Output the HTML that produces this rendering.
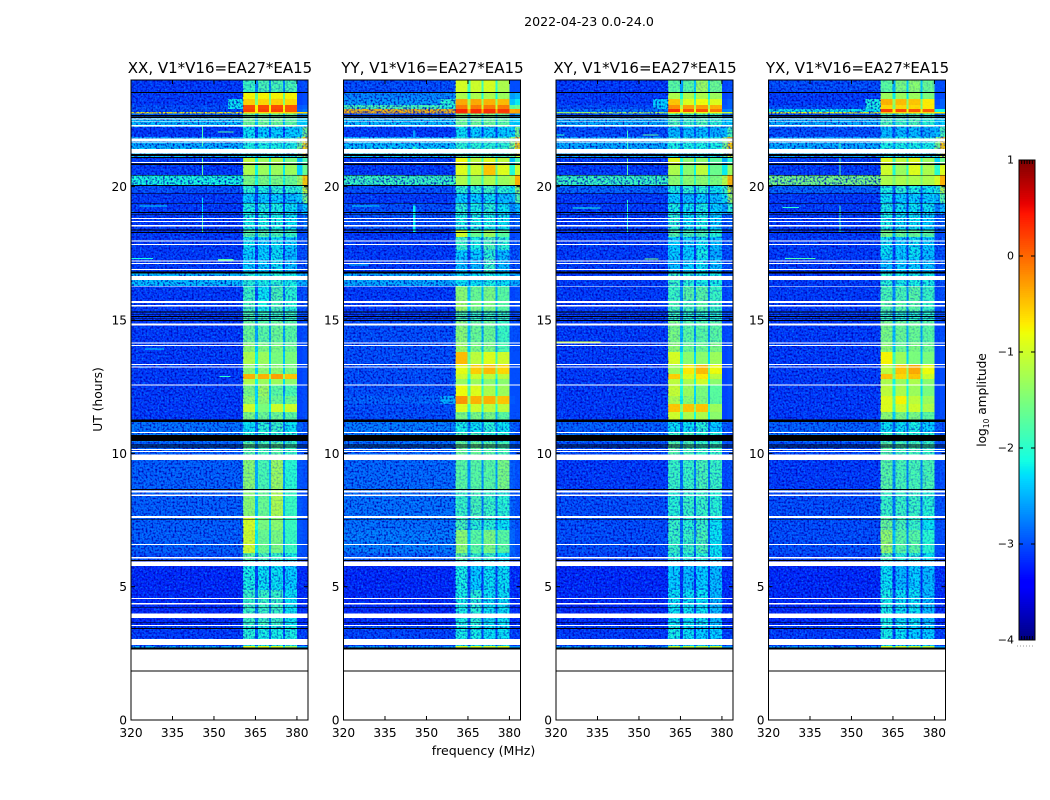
<!DOCTYPE html>
<html lang="en">
<head>
<meta charset="utf-8">
<title>2022-04-23 0.0-24.0</title>
<style>
html,body{margin:0;padding:0;background:#fff;}
svg{display:block;font-family:"DejaVu Sans","Liberation Sans",sans-serif;fill:#000;}
</style>
</head>
<body>
<svg id="figure" xmlns="http://www.w3.org/2000/svg" width="1050" height="800" viewBox="0 0 1050 800">
<defs>
<filter id="fleck-light" x="0" y="0" width="100%" height="100%" color-interpolation-filters="sRGB">
<feTurbulence type="fractalNoise" baseFrequency="0.55" numOctaves="1" seed="7"/>
<feColorMatrix type="matrix" values="0 0 0 0 0  0 0 0 0 0.62  0 0 0 0 1  3.2 0 0 0 -1.45"/>
</filter>
<filter id="fleck-dark" x="0" y="0" width="100%" height="100%" color-interpolation-filters="sRGB">
<feTurbulence type="fractalNoise" baseFrequency="0.52" numOctaves="1" seed="23"/>
<feColorMatrix type="matrix" values="0 0 0 0 0  0 0 0 0 0  0 0 0 0 0.7  3.2 0 0 0 -1.45"/>
</filter>
</defs>
<rect x="0" y="0" width="1050" height="800" fill="#fff"/>
<text x="589" y="26" font-size="12.6" text-anchor="middle">2022-04-23 0.0-24.0</text>
<g id="panels"></g>
<text x="483.5" y="755" font-size="12.55" text-anchor="middle">frequency (MHz)</text>
<text x="0" y="0" font-size="12.3" text-anchor="middle" transform="translate(102,399.5) rotate(-90)">UT (hours)</text>
<g id="colorbar"></g>
<text x="0" y="0" font-size="12.2" text-anchor="middle" transform="translate(986,400) rotate(-90)">log<tspan font-size="7.5" dy="3">10</tspan><tspan dy="-3"> amplitude</tspan></text>
</svg>
<script>
const utEdges = [24,23.53,23.29,23.06,22.91,22.80,22.74,22.58,22.24,21.86,21.45,21.23,21.11,20.81,20.44,20.06,19.76,19.39,18.98,18.38,18.11,17.63,17.33,16.80,16.28,15.75,15.34,14.96,14.18,13.80,13.31,12.98,12.79,12.56,12.15,11.85,11.55,11.25,10.80,10.43,9.75,8.63,7.65,7.13,6.26,5.96,4.88,3.56,3.00,2.78,2.68];

const backgroundBand = [320,360.5];
const spectralBands = [[360.5,364.8],[365.9,369.9],[370.6,375],[375.7,380]];
const edgeBand = [382,384];

const xTickValues = [320,335,350,365,380];
const yTickValues = [0,5,10,15,20];
const colorbarTickValues = [1,0,-1,-2,-3,-4];
const colorbarTickLabels = ['1','0','\u22121','\u22122','\u22123','\u22124'];

const whiteRows = [[22.56,22.52],[22.47,22.44],[22.32,22.26],[21.81,21.72],[21.69,21.66],[21.41,21.25],[20.93,20.89],[18.83,18.79],[18.71,18.68],[18.56,18.50],[17.99,17.95],[17.85,17.81],[17.24,17.20],[17.14,17.10],[16.91,16.88],[16.65,16.50],[16.26,16.23],[15.71,15.64],[15.56,15.51],[14.86,14.79],[14.16,14.12],[14.06,14.03],[13.35,13.31],[13.25,13.21],[12.59,12.55],[10.80,10.76],[10.17,10.13],[10.09,10.05],[9.95,9.75],[8.61,8.54],[8.45,8.40],[7.65,7.58],[6.60,6.56],[6.11,6.06],[5.94,5.78],[4.58,4.54],[4.39,4.34],[3.99,3.83],[3.56,3.53],[3.04,2.81]];

const blackRows = [[23.55,23.51],[22.69,22.64],[22.61,22.58],[21.23,21.15],[21.11,21.08],[20.86,20.82],[20.44,20.41],[20.06,20.03],[19.75,19.72],[19.39,19.36],[19.05,19.02],[18.98,18.95],[18.39,18.35],[18.30,18.26],[16.82,16.75],[15.32,15.28],[15.23,15.20],[15.15,15.11],[15.06,15.03],[15.00,14.96],[11.26,11.18],[10.69,10.47],[10.33,10.29],[10.25,10.22],[8.67,8.63],[7.54,7.51],[6.00,5.97],[4.24,4.21],[3.68,3.65],[3.45,3.41],[2.71,2.65],[1.86,1.81]];

/* Each row: background, band 1-4, high-frequency edge (log10 amplitude) */
const xxLevels = [
[-3.1,-1.9,-1.8,-1.8,-1.8,-3],[-3.1,-.75,-.75,-.75,-.75,-3],[-3.1,-.55,-.6,-.55,-.6,-3],[-3,.15,.15,.15,.1,-2.9],[-3,.2,.2,.2,.1,-2.8],
[-.7,-.6,-.6,-.6,-.6,-.6],[-2.9,-1.6,-1.6,-1.6,-1.6,-2.6],[-2.4,-1.6,-1.6,-1.6,-1.7,-2.3],[-3.1,-2.2,-2.3,-2.3,-2.3,-1.5],[-2.5,-2.1,-2.1,-2.1,-2.1,-.6],
[-2.3,-2,-2,-2,-2,-.5],[-2.4,-2.2,-2.2,-2.2,-2.2,-1],[-3.1,-1.1,-1.3,-1.2,-1.5,-1.8],[-3.1,-1.2,-1.3,-1.3,-1.3,-1.6],[-2.1,-1.5,-1.5,-1.5,-1.6,-.5],
[-3,-2,-2.1,-2,-2,-1],[-3.1,-2.3,-2.3,-2.3,-2.4,-1.5],[-3.1,-2.1,-2.1,-2.1,-2.2,-2.3],[-3.1,-2.1,-2.1,-2.1,-2.2,-2.8],[-3.1,-1.7,-1.7,-1.8,-1.9,-3],
[-3.1,-2.2,-2.3,-2.2,-2.3,-3],[-3.1,-2.3,-2.3,-2.2,-2.4,-3],[-3.1,-2.3,-2.3,-2.2,-2.4,-3],[-2.4,-2,-2.1,-2,-2.1,-2.5],[-3.1,-1.9,-2.2,-1.8,-2,-3],
[-3.1,-1.8,-2.1,-1.8,-2,-3],[-3.1,-1.8,-1.9,-1.9,-1.9,-3],[-3.1,-1.6,-1.7,-1.6,-1.7,-3],[-3.1,-1.4,-1.5,-1.5,-1.6,-3],[-3.1,-1.2,-1.3,-1.5,-1.5,-3],
[-3.1,-1.4,-1.4,-1.4,-1.5,-3],[-3.1,-.4,-.4,-.3,-.5,-3],[-3.1,-1.2,-1.3,-1.3,-1.4,-3],[-3.1,-1.5,-1.3,-1.7,-1.8,-3],[-3.1,-1.4,-1.4,-1.6,-1.6,-3],
[-3.1,-1,-1.5,-1,-1,-3],[-3.1,-1.5,-1.6,-1.6,-1.7,-3],[-2.8,-2.2,-2,-1.9,-2.2,-3],[-2.75,-2,-2,-2,-2,-3],[-2.9,-1.7,-1.8,-1.7,-1.9,-3],
[-2.9,-1.4,-1.8,-1.3,-2,-3],[-2.9,-1.4,-1.6,-1.2,-1.9,-3],[-2.9,-.95,-1.5,-1.4,-1.9,-3],[-2.9,-1,-1.6,-1.5,-1.9,-3],[-3,-1.7,-1.8,-1.9,-2.1,-3],
[-3.2,-2.1,-2.2,-2.2,-2.3,-3.2],[-3.2,-1.9,-1.9,-1.9,-2.2,-3.2],[-3.1,-2,-2.1,-2.1,-2.1,-3.1],[-3.1,-2.1,-2.1,-2.1,-2.1,-3.1],[-2.5,-.9,-.9,-1,-1.3,-2.5]
];

const yyLevels = [
[-3,-.95,-1,-.95,-1.2,-3],[-2.7,-1.2,-1.2,-1.2,-1.3,-2.5],[-2.6,-.35,-.35,-.4,-.45,-2.2],[-1.8,-.1,-.1,-.1,-.1,-1.6],[-.4,.35,.3,.3,.25,-.3],
[-.35,.3,.3,.3,.2,-.3],[-3,-1.5,-1.5,-1.5,-1.6,-2.6],[-2.4,-1.6,-1.6,-1.6,-1.7,-2.3],[-3.1,-2.2,-2.3,-2.3,-2.3,-1.5],[-2.4,-2,-2,-2,-2,-.5],
[-2.2,-1.9,-1.9,-1.9,-1.9,-.6],[-2.3,-1.7,-1.8,-1.8,-1.9,-1],[-3.1,-.8,-1.1,-.9,-1.1,-1.8],[-3.1,-.9,-1,-.5,-.9,-1],[-1.9,-1.2,-1.3,-1.2,-1.3,-.4],
[-3,-2,-2,-1.9,-2,-1.4],[-3.1,-2.3,-2.3,-2.2,-2.4,-1.7],[-3,-2,-2.1,-2,-2.2,-2.4],[-3,-2.1,-2.1,-2.1,-2.2,-2.9],[-3.1,-.95,-1.6,-1.3,-1.7,-3],
[-3.1,-1.9,-2.1,-1.8,-2,-3],[-3.1,-2.3,-2.3,-2,-2.4,-3],[-3.1,-2.4,-2.4,-1.9,-2.4,-3],[-2.5,-2.2,-2.2,-2.1,-2.2,-2.5],[-3.1,-1.4,-1.6,-1.5,-1.7,-3],
[-3.1,-1.3,-1.5,-1.5,-1.7,-3],[-3.1,-1.8,-1.9,-1.9,-1.9,-3],[-3,-1.4,-1.6,-1.6,-1.9,-3],[-3,-1.3,-1.5,-1.5,-1.8,-3],[-3,-.45,-1.1,-.9,-1,-3],
[-3,-.85,-.55,-.45,-.6,-3],[-3,-1,-1,-1.1,-1.1,-3],[-3,-1.3,-1.3,-1.4,-1.4,-3],[-3,-.8,-.9,-1.2,-1.3,-3],[-2.9,-.25,-.4,-.4,-.5,-3],
[-3,-.9,-1,-1.1,-1.1,-3],[-3,-1.5,-1.5,-1.5,-1.7,-3],[-2.75,-2.1,-2.2,-2,-2.2,-3],[-2.75,-1.8,-1.8,-2,-2,-3],[-2.85,-1.6,-1.6,-1.7,-1.8,-3],
[-2.85,-1.7,-1.7,-1.7,-1.5,-3],[-2.8,-1.9,-1.8,-1.9,-2,-3],[-2.8,-1.8,-2,-2,-2.2,-3],[-2.75,-1.4,-1.7,-1.5,-1.7,-3],[-2.9,-1.7,-1.9,-1.9,-2.2,-3],
[-3.2,-2.1,-2.3,-2.2,-2.2,-3.2],[-3.2,-2.1,-2,-2.2,-2.2,-3.2],[-3.05,-2.1,-2.1,-2.2,-2.2,-3.1],[-3.1,-2.2,-2.2,-2.2,-2.2,-3.1],[-2.6,-.95,-.95,-1,-.95,-2.6]
];

const xyLevels = [
[-3.1,-1.7,-1.7,-1.3,-1.6,-3],[-3.1,-1.2,-1.2,-1.2,-1.3,-3],[-3.1,-.5,-.9,-.8,-.9,-2.9],[-3,-.2,-.3,-.3,-.4,-2.9],[-2.8,.3,.1,.1,-.1,-2.7],
[-1.2,-.7,-.8,-.8,-.8,-1],[-3,-1.8,-1.8,-1.8,-1.9,-2.8],[-2.5,-1.8,-1.9,-1.8,-2,-2.3],[-3,-2.4,-2.4,-2.4,-2.5,-1.8],[-2.5,-2.1,-2.1,-2.1,-2.1,-.5],
[-2.5,-2.1,-2.1,-2.1,-2.1,-.5],[-2.5,-2.2,-2.2,-2.2,-2.2,-1],[-3.1,-.9,-1.4,-1.4,-1.7,-2],[-3.1,-1.2,-1.4,-1.1,-1.6,-1.3],[-1.9,-1.4,-1.4,-1.4,-1.5,-.4],
[-2.9,-2.1,-2,-2,-2.2,-1],[-3.1,-2.3,-2.4,-2.3,-2.4,-1.3],[-3.1,-2.1,-2.2,-2.1,-2.3,-2],[-3.1,-2,-2.2,-2.1,-2.3,-2.9],[-3.1,-1.7,-1.8,-1.8,-2,-3],
[-3.1,-2.3,-2.3,-2.2,-2.4,-3],[-3.1,-2.3,-2.3,-2.1,-2.5,-3],[-3.1,-2.4,-2.3,-2.2,-2.4,-3],[-3.1,-1.9,-2,-2.1,-2.1,-3],[-3.1,-1.9,-1.7,-1.7,-1.9,-3],
[-3.1,-1.8,-1.8,-1.7,-1.9,-3],[-3.1,-1.9,-2,-2,-2,-3],[-3.1,-1.5,-1.7,-1.7,-1.7,-3],[-3.1,-1.4,-1.6,-1.6,-1.5,-3],[-3.1,-.95,-1.4,-1.4,-1.3,-3],
[-3.1,-1.3,-.7,-.45,-.8,-3],[-3.1,-.55,-.9,-.7,-1.1,-3],[-3.1,-1.1,-1.2,-1,-1.4,-3],[-3.1,-1.05,-1.3,-1.5,-1.7,-3],[-3.1,-1.2,-1.4,-1.5,-1.7,-3],
[-3.1,-.5,-.5,-.5,-1.3,-3],[-3.1,-1,-1.2,-1.2,-1.4,-3],[-2.9,-2.2,-2.2,-2,-2.3,-3],[-2.8,-1.9,-1.8,-2,-2,-3],[-3,-1.7,-1.8,-1.9,-1.9,-3],
[-3.1,-1.9,-1.9,-1.8,-1.9,-3],[-3,-2,-1.9,-1.9,-2,-3],[-3,-1.9,-2,-1.9,-2.2,-3],[-3,-1.9,-1.9,-1.8,-2.2,-3],[-3.05,-2,-2,-2,-2.2,-3.1],
[-3.2,-2.3,-2.4,-2.3,-2.4,-3.2],[-3.2,-2.2,-2.2,-2.2,-2.4,-3.2],[-3.1,-2.1,-2.2,-2.3,-2.3,-3.1],[-3.1,-2.3,-2.3,-2.3,-2.3,-3.1],[-2.6,-1.1,-1.1,-1.2,-1.1,-2.6]
];

const yxLevels = [
[-3,-1.7,-1.5,-1.4,-1.6,-3],[-3.1,-1.3,-1.3,-1.3,-1.5,-3],[-3.1,-.4,-.45,-.5,-.7,-2.9],[-3,-.6,-.6,-.6,-.7,-2.9],[-2.2,.2,.15,.1,.05,-2.1],
[-.8,-.5,-.6,-.6,-.6,-.7],[-3,-1.8,-1.8,-1.8,-1.9,-2.8],[-2.5,-1.8,-1.9,-1.8,-2,-2.3],[-3,-2.4,-2.4,-2.4,-2.5,-1.8],[-2.5,-2.1,-2.1,-2.1,-2.1,-.5],
[-2.4,-2.1,-2.1,-2.1,-2.1,-.5],[-2.5,-2.2,-2.2,-2.2,-2.2,-1],[-3.1,-.9,-1.1,-.9,-1.3,-1.6],[-3.1,-1,-1.3,-.9,-1.2,-.9],[-1.5,-1.2,-1.2,-1.2,-1.2,-.4],
[-2.9,-2.1,-2,-2.1,-2.2,-1.2],[-3.1,-2.2,-2.3,-2.3,-2.3,-1.7],[-3.1,-2.1,-2.2,-2.2,-2.2,-2.4],[-3.1,-2.1,-2.2,-2.2,-2.3,-2.9],[-3.1,-1.5,-1.6,-1.6,-1.7,-3],
[-3.1,-2.2,-2.3,-2.2,-2.3,-3],[-3.1,-2.2,-2.3,-2.2,-2.4,-3],[-3.1,-2.4,-2.3,-2.3,-2.4,-3],[-3.1,-2,-2.1,-2.1,-2.1,-3],[-3.1,-1.8,-1.8,-1.7,-1.9,-3],
[-3.1,-1.7,-1.7,-1.7,-1.9,-3],[-3.1,-1.9,-2,-2,-2,-3],[-3.1,-1.5,-1.6,-1.6,-1.7,-3],[-3.1,-1.4,-1.6,-1.5,-1.6,-3],[-3.1,-.75,-1.3,-1.5,-1.5,-3],
[-3.1,-1.1,-.5,-.35,-.8,-3],[-3.1,-.5,-.6,-.5,-1,-3],[-3.1,-1.2,-1.3,-1.2,-1.4,-3],[-3.1,-1.1,-1.2,-1.3,-1.5,-3],[-3.1,-.9,-.75,-1.1,-1.3,-3],
[-3.1,-.9,-1,-1,-1.2,-3],[-3.1,-1.4,-1.5,-1.5,-1.7,-3],[-2.9,-2.2,-2.2,-2.1,-2.3,-3],[-2.8,-1.9,-1.9,-2,-2,-3],[-3,-1.7,-1.8,-1.8,-1.9,-3],
[-3.1,-1.7,-1.8,-1.8,-1.8,-3],[-3,-1.9,-1.9,-1.9,-2,-3],[-3,-1.6,-1.8,-1.9,-2.2,-3],[-3,-1.35,-1.7,-1.7,-2,-3],[-3.05,-1.8,-2,-2,-2.2,-3.1],
[-3.2,-2.2,-2.4,-2.3,-2.4,-3.2],[-3.2,-2.1,-2.2,-2.2,-2.4,-3.2],[-3.1,-2.1,-2.2,-2.3,-2.3,-3.1],[-3.1,-2.2,-2.3,-2.3,-2.3,-3.1],[-2.6,-1,-1,-1.1,-1.1,-2.6]
];

/* Shoulder below the first band: [utStart, utEnd, level] */
const xxShoulder = [[23.29,22.91,-2.2]];
const yyShoulder = [[23.29,22.91,-2.0],[12.15,11.85,-2.5]];
const xyShoulder = [[23.29,22.91,-2.3]];
const yxShoulder = [[23.29,22.91,-2.1]];

/* Narrow RFI: [utStart, utEnd, freqStart, freqEnd, level] */
const xxInterference = [[22.3,21.5,345.6,346.1,-1.8],[21.1,20.44,345.6,346.1,-1.7],[19.6,18.9,345.6,346.1,-2.3],[18.9,18.3,345.6,346.1,-1.8],[22.07,22.03,351.5,357,-1.8],[19.3,19.26,323,333,-2.3],[17.28,17.24,351.5,357,-1.7],[17.32,17.28,320,328,-2.1],[13.93,13.89,325,332,-2.3],[12.9,12.86,352,356,-2]];
const yyInterference = [[22.1,21.8,345.2,346.1,-2.6],[21.5,21.25,345.2,346.1,-2],[19.3,18.3,345.2,346.1,-2.2],[19.3,19.26,323,333,-2.3],[17.08,17.04,322,329,-2.4]];
const xyInterference = [[22.1,21.3,345.6,346.1,-1.9],[21.05,20.44,345.6,346.1,-1.7],[19.5,18.3,345.6,346.1,-2],[21.96,21.92,351.5,357,-1.7],[21.96,21.92,320,323,-2],[19.22,19.18,326,336,-2.1],[17.3,17.26,352,357,-1.5],[14.2,14.16,320,336,-1]];
const yxInterference = [[21.7,21.3,345.6,346.1,-1.9],[21.1,20.44,345.6,346.1,-1.7],[19.3,18.3,345.6,346.1,-1.9],[19.24,19.2,325,331,-2],[17.33,17.29,326,337,-1.8]];

const panelNames = ['xx','yy','xy','yx'];
const panelTitles = ['XX, V1*V16=EA27*EA15','YY, V1*V16=EA27*EA15','XY, V1*V16=EA27*EA15','YX, V1*V16=EA27*EA15'];
const panelLevels = [xxLevels,yyLevels,xyLevels,yxLevels];
const panelShoulders = [xxShoulder,yyShoulder,xyShoulder,yxShoulder];
const panelInterference = [xxInterference,yyInterference,xyInterference,yxInterference];

const SVG_NS = 'http://www.w3.org/2000/svg';
const PLOT_LEFT = 131, PLOT_SPACING = 212.5, PLOT_WIDTH = 177, PLOT_TOP = 80, PLOT_HEIGHT = 640;
const FREQ_MIN = 320, FREQ_MAX = 384, UT_MAX = 24;
const CB_LEFT = 1019, CB_WIDTH = 16, CB_TOP = 160, CB_HEIGHT = 480, CB_MIN = -4, CB_MAX = 1;

function xScale(panelIndex, freq) {
  return PLOT_LEFT + PLOT_SPACING * panelIndex + (freq - FREQ_MIN) / (FREQ_MAX - FREQ_MIN) * PLOT_WIDTH;
}
function yScale(ut) {
  return PLOT_TOP + (UT_MAX - ut) / UT_MAX * PLOT_HEIGHT;
}
function cbScale(level) {
  return CB_TOP + (CB_MAX - level) / (CB_MAX - CB_MIN) * CB_HEIGHT;
}
function ramp(t, a, b, from, to) {
  return from + (to - from) * (t - a) / (b - a);
}
function jet(level) {
  const t = Math.max(0, Math.min(1, (level - CB_MIN) / (CB_MAX - CB_MIN)));
  let r = 0, g = 0, b = 0;
  if (t >= 0.35 && t < 0.66) r = ramp(t, 0.35, 0.66, 0, 1);
  else if (t >= 0.66 && t < 0.89) r = 1;
  else if (t >= 0.89) r = ramp(t, 0.89, 1, 1, 0.5);
  if (t >= 0.125 && t < 0.375) g = ramp(t, 0.125, 0.375, 0, 1);
  else if (t >= 0.375 && t < 0.64) g = 1;
  else if (t >= 0.64 && t < 0.91) g = ramp(t, 0.64, 0.91, 1, 0);
  if (t < 0.11) b = ramp(t, 0, 0.11, 0.5, 1);
  else if (t < 0.34) b = 1;
  else if (t < 0.65) b = ramp(t, 0.34, 0.65, 1, 0);
  return 'rgb(' + Math.round(r * 255) + ',' + Math.round(g * 255) + ',' + Math.round(b * 255) + ')';
}
function makeRect(parent, x, y, w, h, fill) {
  const el = document.createElementNS(SVG_NS, 'rect');
  el.setAttribute('x', x);
  el.setAttribute('y', y);
  el.setAttribute('width', w);
  el.setAttribute('height', h);
  el.setAttribute('fill', fill);
  el.setAttribute('shape-rendering', 'crispEdges');
  parent.appendChild(el);
  return el;
}
function makeLine(parent, x1, y1, x2, y2, color) {
  const el = document.createElementNS(SVG_NS, 'line');
  el.setAttribute('x1', x1);
  el.setAttribute('y1', y1);
  el.setAttribute('x2', x2);
  el.setAttribute('y2', y2);
  el.setAttribute('stroke', color);
  el.setAttribute('stroke-width', '1');
  parent.appendChild(el);
  return el;
}
function makeText(parent, x, y, str, size, anchor) {
  const el = document.createElementNS(SVG_NS, 'text');
  el.setAttribute('x', x);
  el.setAttribute('y', y);
  el.setAttribute('font-size', size);
  el.setAttribute('text-anchor', anchor);
  el.textContent = str;
  parent.appendChild(el);
  return el;
}

function drawCell(group, p, f0, f1, ut0, ut1, level) {
  const x0 = xScale(p, f0), x1 = xScale(p, f1), y0 = yScale(ut0), y1 = yScale(ut1);
  return makeRect(group, x0, y0, x1 - x0, y1 - y0, jet(level));
}

function drawNoise(group, p, f0, f1, ut0, ut1, lightOpacity, darkOpacity) {
  const x0 = xScale(p, f0), x1 = xScale(p, f1), y0 = yScale(ut0), y1 = yScale(ut1);
  const light = makeRect(group, x0, y0, x1 - x0, y1 - y0, '#000');
  light.setAttribute('filter', 'url(#fleck-light)');
  light.setAttribute('opacity', lightOpacity);
  
  
  const dark = makeRect(group, x0, y0, x1 - x0, y1 - y0, '#000');
  dark.setAttribute('filter', 'url(#fleck-dark)');
  dark.setAttribute('opacity', darkOpacity);
  
  
}

function drawPanel(p) {
  const root = document.getElementById('panels');
  const group = document.createElementNS(SVG_NS, 'g');
  
  
  root.appendChild(group);
  const levels = panelLevels[p];

  levels.forEach(function (row, r) {
    const ut0 = utEdges[r], ut1 = utEdges[r + 1];
    const bg = row[0], edge = row[5];
    let c = drawCell(group, p, backgroundBand[0], backgroundBand[1], ut0, ut1, bg);
    
    
    spectralBands.forEach(function (band, b) {
      const cell = drawCell(group, p, band[0], band[1], ut0, ut1, row[b + 1]);
      
      
      if (b < spectralBands.length - 1) {
        const gapLevel = Math.max(bg, (row[b + 1] + row[b + 2]) / 2 - 0.9);
        const gap = drawCell(group, p, band[1], spectralBands[b + 1][0], ut0, ut1, gapLevel);
        
        
      }
    });
    const mid = drawCell(group, p, spectralBands[3][1], edgeBand[0], ut0, ut1, (bg + edge) / 2);
    
    
    const hi = drawCell(group, p, edgeBand[0], edgeBand[1], ut0, ut1, edge);
    
    
  });

  panelShoulders[p].forEach(function (s) {
    const cell = drawCell(group, p, 355, backgroundBand[1], s[0], s[1], s[2]);
    
    
  });

  /* Receiver noise texture: strong on the quiet background, fading on bright bands */
  drawNoise(group, p, FREQ_MIN, backgroundBand[1], utEdges[0], utEdges[utEdges.length - 1], 0.6, 0.95);
  levels.forEach(function (row, r) {
    const meanBand = (row[1] + row[2] + row[3] + row[4]) / 4;
    const strength = Math.max(0.03, Math.min(0.7, (-1.3 - meanBand) * 0.8));
    drawNoise(group, p, backgroundBand[1], FREQ_MAX, utEdges[r], utEdges[r + 1], strength, strength);
  });

  panelInterference[p].forEach(function (d) {
    const cell = drawCell(group, p, d[2], d[3], d[0], d[1], d[4]);
    
    
  });

  whiteRows.forEach(function (w) {
    const el = makeRect(group, xScale(p, FREQ_MIN), yScale(w[0]), PLOT_WIDTH, yScale(w[1]) - yScale(w[0]), '#fff');
    
    
  });
  blackRows.forEach(function (w) {
    const el = makeRect(group, xScale(p, FREQ_MIN), yScale(w[0]), PLOT_WIDTH, yScale(w[1]) - yScale(w[0]), '#000');
    
    
  });

  const top = yScale(UT_MAX);
  const left = xScale(p, FREQ_MIN), right = xScale(p, FREQ_MAX), bottom = yScale(0);
  xTickValues.forEach(function (v) {
    const x = xScale(p, v);
    const t1 = makeLine(group, x, bottom, x, bottom - 4, '#000');
    
    
    const t2 = makeLine(group, x, top, x, top + 4, '#000');
    
    
    const lab = makeText(group, x, 737, String(v), 12.2, 'middle');
    
    
  });
  yTickValues.forEach(function (v) {
    const y = yScale(v);
    const t1 = makeLine(group, left, y, left + 4, y, '#000');
    
    
    const t2 = makeLine(group, right, y, right - 4, y, '#000');
    
    
    const lab = makeText(group, left - 4, y + 4.5, String(v), 12.2, 'end');
    
    
  });

  const frame = document.createElementNS(SVG_NS, 'rect');
  frame.setAttribute('x', left);
  frame.setAttribute('y', top);
  frame.setAttribute('width', PLOT_WIDTH);
  frame.setAttribute('height', PLOT_HEIGHT);
  frame.setAttribute('fill', 'none');
  frame.setAttribute('stroke', '#000');
  frame.setAttribute('stroke-width', '1');
  
  
  group.appendChild(frame);

  const title = makeText(group, left + PLOT_WIDTH / 2 + 0.5, 73, panelTitles[p], 15, 'middle');
  
  
}

function drawColorbar() {
  const group = document.getElementById('colorbar');
  for (let level = CB_MIN; level < CB_MAX; level += 0.02) {
    const y0 = cbScale(level + 0.02), y1 = cbScale(level);
    const seg = makeRect(group, CB_LEFT, y0, CB_WIDTH, y1 - y0 + 0.5, jet(level + 0.01));
    
    
  }
  colorbarTickValues.forEach(function (v, i) {
    const y = cbScale(v);
    const t1 = makeLine(group, CB_LEFT, y, CB_LEFT + 4, y, '#000');
    
    
    const t2 = makeLine(group, CB_LEFT + CB_WIDTH, y, CB_LEFT + CB_WIDTH - 4, y, '#000');
    
    
    const lab = makeText(group, CB_LEFT - 5, y + 3.5, colorbarTickLabels[i], 11, 'end');
    
    
  });
  for (let k = 1; k < 6; k++) {
    const x = CB_LEFT + k * CB_WIDTH / 6;
    const t1 = makeLine(group, x, CB_TOP, x, CB_TOP + 4, '#000');
    
    
    const t2 = makeLine(group, x, CB_TOP + CB_HEIGHT, x, CB_TOP + CB_HEIGHT - 4, '#000');
    
    
  }
  const frame = document.createElementNS(SVG_NS, 'rect');
  frame.setAttribute('x', CB_LEFT);
  frame.setAttribute('y', CB_TOP);
  frame.setAttribute('width', CB_WIDTH);
  frame.setAttribute('height', CB_HEIGHT);
  frame.setAttribute('fill', 'none');
  frame.setAttribute('stroke', '#000');
  frame.setAttribute('stroke-width', '1');
  
  
  group.appendChild(frame);
  const dots = makeLine(group, 1017, 646, 1035, 646, '#999');
  dots.setAttribute('stroke-dasharray', '1 2');
  
  
}

panelNames.forEach(function (name, p) { drawPanel(p); });
drawColorbar();
</script>
</body>
</html>
